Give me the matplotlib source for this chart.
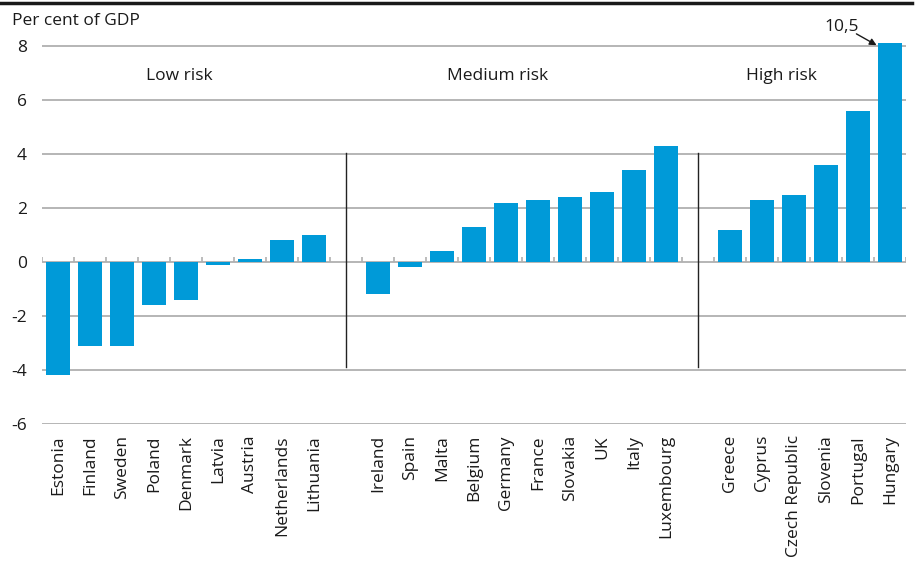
import numpy as np
import matplotlib
matplotlib.use("Agg")
import matplotlib.pyplot as plt
from matplotlib.lines import Line2D

plt.rcParams['font.family'] = ['Open Sans', 'DejaVu Sans']

low_countries = ["Estonia", "Finland", "Sweden", "Poland", "Denmark", "Latvia",
                 "Austria", "Netherlands", "Lithuania"]
low_values = [-4.2, -3.1, -3.1, -1.6, -1.4, -0.1, 0.1, 0.8, 1.0]

medium_countries = ["Ireland", "Spain", "Malta", "Belgium", "Germany", "France",
                    "Slovakia", "UK", "Italy", "Luxembourg"]
medium_values = [-1.2, -0.2, 0.4, 1.3, 2.2, 2.3, 2.4, 2.6, 3.4, 4.3]

high_countries = ["Greece", "Cyprus", "Czech Republic", "Slovenia", "Portugal", "Hungary"]
high_values = [1.2, 2.3, 2.5, 3.6, 5.6, 10.5]

group_names = ["Low risk", "Medium risk", "High risk"]
y_ticks = [-6, -4, -2, 0, 2, 4, 6, 8]

BLUE = "#009ad8"
GRID = "#b0b0b0"
TEXT = "#1a1a1a"
FS = 12.5

# Lay out the three groups with one empty slot between them
groups = [(low_countries, low_values), (medium_countries, medium_values),
          (high_countries, high_values)]
positions, labels, values, group_starts = [], [], [], []
pos = 0
for names, vals in groups:
    group_starts.append(pos)
    for n, v in zip(names, vals):
        positions.append(pos)
        labels.append(n)
        values.append(v)
        pos += 1
    pos += 1
n_slots = pos - 1

fig = plt.figure(figsize=(9.18, 5.63), dpi=100)
ax = fig.add_axes([42 / 918, 1 - 424 / 563, 864 / 918, (424 - 43.3) / 563])

ax.set_xlim(-0.5, n_slots - 0.5)
ax.set_ylim(-6, 8.1)

for y in y_ticks:
    ax.axhline(y, color=GRID, lw=1.3, zorder=1)

ax.bar(positions, values, width=0.78, color=BLUE, zorder=3)

# Small upward ticks on the zero line at every slot boundary
bounds = np.arange(n_slots + 1) - 0.5
ax.vlines(bounds, 0, 0.2, color=GRID, lw=1.2, zorder=2)

# Separators between the risk groups
for gs in group_starts[1:]:
    ax.plot([gs - 1, gs - 1], [-3.9, 4.05], color="#222222", lw=1.0, zorder=4)

# Group titles
title_x = [3.8, 13.75, 22.6]
for name, gx in zip(group_names, title_x):
    ax.text(gx, 6.9, name, ha="center", va="center", fontsize=FS, color=TEXT)

# Hungary runs off the scale: label its actual value
hx = positions[-1]
ax.text(hx - 1.5, 8.7, f"{high_values[-1]:.1f}".replace(".", ","),
        ha="center", va="center", fontsize=FS, color=TEXT, clip_on=False)
ax.annotate("", xy=(hx - 0.42, 8.03), xytext=(hx - 1.05, 8.45),
            textcoords="data", annotation_clip=False,
            arrowprops=dict(arrowstyle="-|>", color=TEXT, lw=1.0,
                            mutation_scale=10, shrinkA=0, shrinkB=0))

ax.set_xticks(positions)
ax.set_xticklabels(labels, rotation=90, fontsize=FS, color=TEXT)
ax.set_yticks(y_ticks)
ax.set_yticklabels([str(t) for t in y_ticks], fontsize=FS, color=TEXT)
ax.tick_params(axis="both", length=0)
ax.tick_params(axis="y", pad=11)
ax.tick_params(axis="x", pad=8)
for s in ax.spines.values():
    s.set_visible(False)

fig.text(12 / 918, 1 - 21 / 563, "Per cent of GDP", ha="left", va="center",
         fontsize=FS, color=TEXT)
fig.add_artist(Line2D([0, 912 / 918], [1 - 3 / 563, 1 - 3 / 563],
                      transform=fig.transFigure, color=TEXT, lw=2.5))

fig.savefig("out.png", dpi=100)
